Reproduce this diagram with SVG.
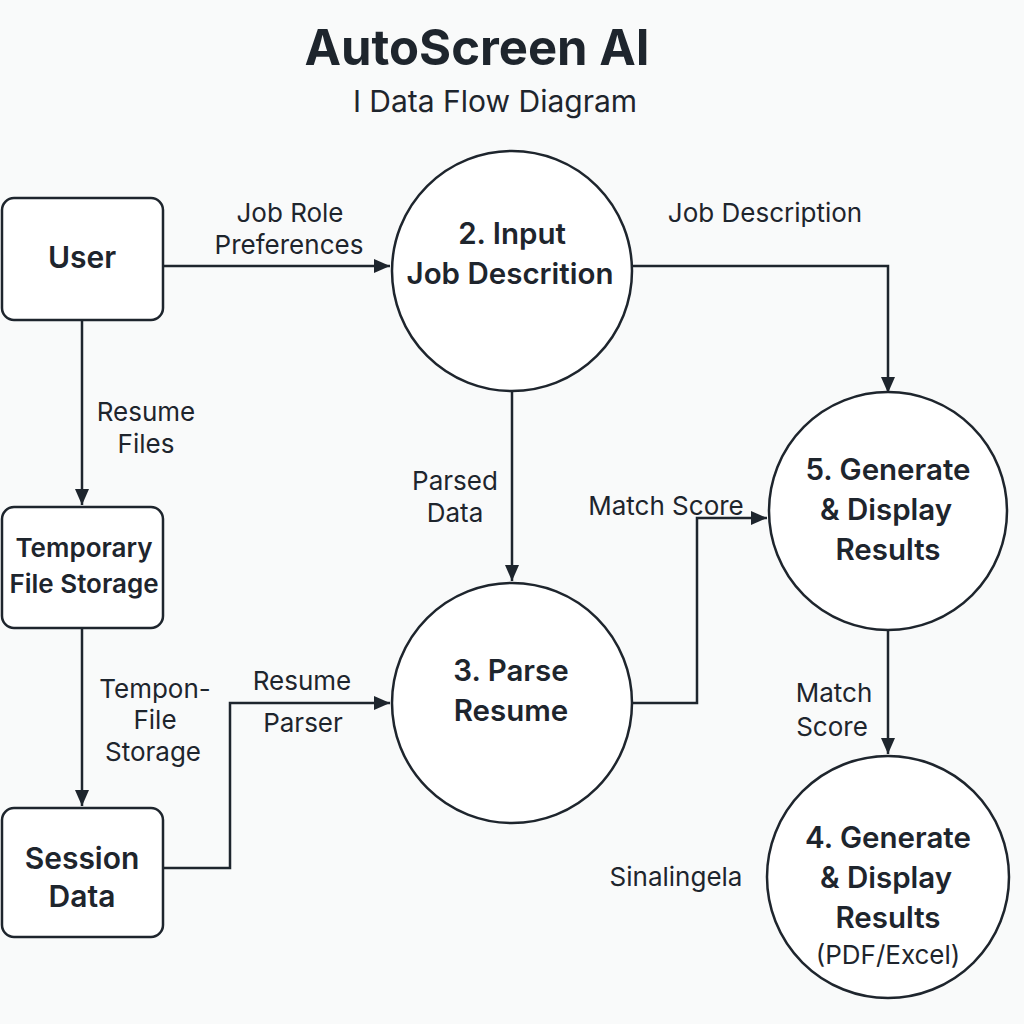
<svg xmlns="http://www.w3.org/2000/svg" width="1024" height="1024" viewBox="0 0 1024 1024">
<defs>
<marker id="ah" viewBox="0 0 16 14" refX="16" refY="7" markerWidth="16" markerHeight="14" markerUnits="userSpaceOnUse" orient="auto"><path d="M0,0 L16,7 L0,14 z" fill="#1e252d"/></marker>
<style>
.box{fill:#fff;stroke:#1e252d;stroke-width:2.5}
.proc{fill:#fff;stroke:#1e252d;stroke-width:2.5}
.conn{fill:none;stroke:#1e252d;stroke-width:2.5}
text{font-family:Inter,"Noto Sans","Liberation Sans",sans-serif;fill:#1e252d;text-anchor:middle}
.t{font-size:49px;font-weight:700}
.st{font-size:30px}
.nb{font-size:29.5px;font-weight:600}
.lb{font-size:26px}
</style>
</defs>
<rect width="1024" height="1024" fill="#f9fafa"/>
<text class="t" x="477" y="65">AutoScreen AI</text>
<text class="st" x="495" y="112">I Data Flow Diagram</text>

<g id="connectors">
<path class="conn" d="M163,266 H390" marker-end="url(#ah)"/>
<path class="conn" d="M82,320 V505" marker-end="url(#ah)"/>
<path class="conn" d="M82,628 V806" marker-end="url(#ah)"/>
<path class="conn" d="M163,868 H230 V703 H390" marker-end="url(#ah)"/>
<path class="conn" d="M512,392 V581" marker-end="url(#ah)"/>
<path class="conn" d="M632,266 H888 V393" marker-end="url(#ah)"/>
<path class="conn" d="M632,703 H697 V518 H767" marker-end="url(#ah)"/>
<path class="conn" d="M888,628 V754" marker-end="url(#ah)"/>
<text class="lb" x="290" y="222">Job Role</text>
<text class="lb" x="289" y="254">Preferences</text>
<text class="lb" x="146" y="421">Resume</text>
<text class="lb" x="146" y="453">Files</text>
<text class="lb" x="155" y="698">Tempon-</text>
<text class="lb" x="155" y="729">File</text>
<text class="lb" x="153" y="761">Storage</text>
<text class="lb" x="302" y="690">Resume</text>
<text class="lb" x="303" y="732">Parser</text>
<text class="lb" x="455" y="490">Parsed</text>
<text class="lb" x="455" y="522">Data</text>
<text class="lb" x="765" y="222">Job Description</text>
<text class="lb" x="666" y="515">Match Score</text>
<text class="lb" x="834" y="702">Match</text>
<text class="lb" x="832" y="736">Score</text>
</g>

<g id="user">
<rect class="box" x="2" y="198" width="161" height="122" rx="12"/>
<text class="nb" x="82" y="268" style="font-size:30px">User</text>
</g>
<g id="temp-storage">
<rect class="box" x="2" y="507" width="161" height="121" rx="12"/>
<text class="nb" x="84" y="557" style="font-size:26px">Temporary</text>
<text class="nb" x="84" y="593" style="font-size:26px">File Storage</text>
</g>
<g id="session-data">
<rect class="box" x="2" y="808" width="161" height="129" rx="12"/>
<text class="nb" x="82" y="869" style="font-size:30px">Session</text>
<text class="nb" x="82" y="907" style="font-size:30px">Data</text>
</g>
<g id="p2">
<circle class="proc" cx="512" cy="271" r="120"/>
<text class="nb" x="512" y="244">2. Input</text>
<text class="nb" x="510" y="284">Job Descrition</text>
</g>
<g id="p3">
<circle class="proc" cx="512" cy="703" r="120"/>
<text class="nb" x="511" y="681">3. Parse</text>
<text class="nb" x="511" y="721">Resume</text>
</g>
<g id="p5">
<circle class="proc" cx="888" cy="511" r="119"/>
<text class="nb" x="888" y="480">5. Generate</text>
<text class="nb" x="886" y="520">&amp; Display</text>
<text class="nb" x="888" y="560">Results</text>
</g>
<g id="p4">
<circle class="proc" cx="888" cy="877" r="121"/>
<text class="nb" x="888" y="848">4. Generate</text>
<text class="nb" x="886" y="888">&amp; Display</text>
<text class="nb" x="888" y="928">Results</text>
<text class="lb" x="888" y="964">(PDF/Excel)</text>
</g>
<text class="lb" x="676" y="886">Sinalingela</text>
</svg>
